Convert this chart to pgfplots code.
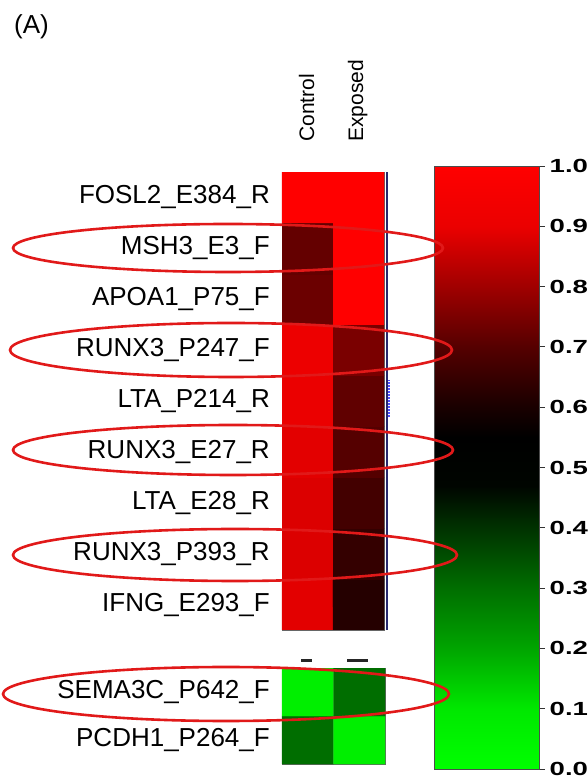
\documentclass[border=0pt]{standalone}
\usepackage{pgfplots}
\pgfplotsset{compat=1.18}
\usepackage{fontspec}
\setmainfont{Liberation Sans}
\usepackage{graphicx}
\definecolor{ellred}{RGB}{225,25,25}
\definecolor{navy}{RGB}{40,40,110}
\pgfplotsset{
  colormap={gbr}{rgb255(0cm)=(0,255,0) rgb255(10cm)=(0,232,0) rgb255(20cm)=(0,165,0) rgb255(30cm)=(0,110,0) rgb255(40cm)=(0,50,0) rgb255(47cm)=(0,5,0) rgb255(55cm)=(0,0,0) rgb255(60cm)=(25,0,0) rgb255(70cm)=(85,0,0) rgb255(80cm)=(160,0,0) rgb255(90cm)=(235,0,0) rgb255(100cm)=(255,0,0)}
}
\newcommand\cbl[1]{\scalebox{1.45}[1]{\bfseries #1}}
\begin{document}
\begin{tikzpicture}[x=1pt,y=1pt]
\useasboundingbox (0,0) rectangle (587,782);
\begin{axis}[
  name=top, scale only axis, width=102pt, height=458pt,
  at={(282pt,152pt)}, anchor=south west,
  xmin=-0.5, xmax=1.5, ymin=-0.5, ymax=8.5,
  xtick=\empty, ytick={0,1,2,3,4,5,6,7,8},
  yticklabels={IFNG\_E293\_F, RUNX3\_P393\_R, LTA\_E28\_R, RUNX3\_E27\_R, LTA\_P214\_R, RUNX3\_P247\_F, APOA1\_P75\_F, MSH3\_E3\_F, FOSL2\_E384\_R},
  yticklabel style={font=\fontsize{26}{30}\selectfont, inner sep=0pt, xshift=-12pt},
  major tick length=0pt,
  colormap name=gbr, point meta min=0, point meta max=1,
  axis line style={draw=black!60, line width=0.8pt},
  colorbar, colorbar/width=105pt,
  colorbar style={
    at={(parent axis.north east)}, anchor=north west, xshift=42pt, yshift=6pt,
    scale only axis, width=105pt, height=603pt,
    xmin=0, xmax=1,
    ytick={0,0.1,0.2,0.3,0.4,0.5,0.6,0.7,0.8,0.9,1},
    yticklabels={\cbl{0.0},\cbl{0.1},\cbl{0.2},\cbl{0.3},\cbl{0.4},\cbl{0.5},\cbl{0.6},\cbl{0.7},\cbl{0.8},\cbl{0.9},\cbl{1.0}},
    ytick pos=right, yticklabel pos=right,
    yticklabel style={font=\fontsize{19}{22}\selectfont, inner sep=0pt, xshift=5pt},
    major tick length=5pt, tick align=outside, tick style={black!80, line width=1pt},
    axis line style={draw=black!70, line width=0.8pt},
  },
]
\addplot[matrix plot*, mesh/cols=2, point meta=explicit] table[meta=c] {
x y c
0 0 0.89
1 0 0.62
0 1 0.88
1 1 0.645
0 2 0.88
1 2 0.67
0 3 0.89
1 3 0.70
0 4 0.90
1 4 0.715
0 5 0.91
1 5 0.75
0 6 0.73
1 6 1.0
0 7 0.72
1 7 1.0
0 8 1.0
1 8 1.0
};
\end{axis}
\begin{axis}[
  name=bot, scale only axis, width=103pt, height=96pt,
  at={(282pt,18pt)}, anchor=south west,
  xmin=-0.5, xmax=1.5, ymin=-0.5, ymax=1.5,
  xtick=\empty, ytick={0,1},
  yticklabels={PCDH1\_P264\_F, SEMA3C\_P642\_F},
  yticklabel style={font=\fontsize{26}{30}\selectfont, inner sep=0pt, xshift=-12pt},
  major tick length=0pt,
  colormap name=gbr, point meta min=0, point meta max=1,
  axis line style={draw=black!60, line width=0.8pt},
]
\addplot[matrix plot*, mesh/cols=2, point meta=explicit] table[meta=c] {
x y c
0 0 0.30
1 0 0.07
0 1 0.07
1 1 0.30
};
\end{axis}
% column labels
\node[rotate=90, anchor=base west, font=\fontsize{21}{24}\selectfont, inner sep=0pt] at (314,640) {Control};
\node[rotate=90, anchor=base west, font=\fontsize{21}{24}\selectfont, inner sep=0pt] at (363,640) {Exposed};
\node[anchor=base west, font=\fontsize{26}{30}\selectfont, inner sep=0pt] at (14,748) {(A)};
% decorations
\draw[navy, line width=1.2pt] (387,152)--(387,610);
\draw[blue!70!white, line width=2pt, dash pattern=on 1.5pt off 1.5pt] (388.5,365)--(388.5,402);
\draw[black!85, line width=3pt] (301,121)--(312,121);
\draw[black!85, line width=3pt] (347,121)--(368,121);
% ellipses
\draw[ellred, line width=2.6pt] (228,534) ellipse [x radius=215, y radius=24];
\draw[ellred, line width=2.6pt] (231,432) ellipse [x radius=221, y radius=27];
\draw[ellred, line width=2.6pt] (233,332) ellipse [x radius=220, y radius=25];
\draw[ellred, line width=2.6pt] (235,227) ellipse [x radius=222, y radius=26];
\draw[ellred, line width=2.6pt] (226,88) ellipse [x radius=223, y radius=27];
\end{tikzpicture}
\end{document}
